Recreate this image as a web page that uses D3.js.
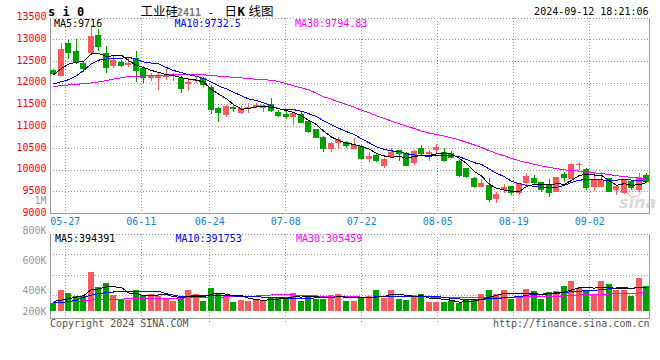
<!DOCTYPE html>
<html><head><meta charset="utf-8">
<script src="https://cdn.jsdelivr.net/npm/d3@7"></script>
<style>html,body{margin:0;padding:0;background:#fff}svg{display:block}</style>
</head><body>
<svg id="c" width="660" height="360"></svg>
<script>
// ---------------- data ----------------
const dates = ["05-23","05-24","05-27","05-28","05-29","05-30","05-31",
"06-03","06-04","06-05","06-06","06-07","06-11","06-12","06-13","06-14",
"06-17","06-18","06-19","06-20","06-21","06-24","06-25","06-26","06-27","06-28",
"07-01","07-02","07-03","07-04","07-05","07-08","07-09","07-10","07-11","07-12",
"07-15","07-16","07-17","07-18","07-19","07-22","07-23","07-24","07-25","07-26",
"07-29","07-30","07-31","08-01","08-02","08-05","08-06","08-07","08-08","08-09",
"08-12","08-13","08-14","08-15","08-16","08-19","08-20","08-21","08-22","08-23",
"08-26","08-27","08-28","08-29","08-30","09-02","09-03","09-04","09-05","09-06",
"09-09","09-10","09-11","09-12"];

const open = [12311,12173,12924,12740,12464,12702,13100,12702,12403,12495,
12418,12579,12349,12119,12119,12134,12165,12127,11981,12050,
12111,11920,11421,11268,11460,11322,11398,11460,11421,11521,
11345,11291,11230,11291,11138,10938,10770,10486,10632,10639,
10486,10563,10256,10348,10095,10310,10455,10387,10172,10517,
10363,10463,10425,10386,10218,10057,9827,9620,9658,9336,
9543,9635,9482,9696,9827,9719,9673,9489,9911,9796,
10118,10018,9620,9620,9811,9543,9482,9750,9543,9888];
const high = [12330,12924,12993,13016,12479,13330,13246,12847,12617,12525,
12579,12748,12387,12234,12234,12334,12242,12165,12111,12134,
12134,11958,11460,11498,11513,11475,11552,11536,11513,11667,
11383,11368,11345,11345,11153,10954,10785,10655,10770,10670,
10731,10578,10425,10363,10287,10517,10463,10425,10463,10578,
10463,10593,10501,10440,10233,10057,9850,9788,9811,9505,
9681,9635,9696,9942,9888,9735,9788,9850,9949,10156,
10195,10057,9926,9949,9811,9658,9788,9773,9926,9926];
const low = [12180,12165,12564,12449,12265,12656,12748,12226,12349,12364,
12364,12019,12004,12042,11850,12080,12058,11782,11843,11996,
11920,11283,11115,11230,11345,11283,11322,11421,11330,11345,
11214,11176,11038,11076,10861,10731,10425,10425,10478,10501,
10486,10256,10195,10195,10057,10310,10218,10095,10118,10325,
10218,10371,10195,10271,9850,9827,9581,9620,9275,9252,
9466,9428,9428,9620,9673,9505,9390,9489,9735,9796,
10003,9543,9528,9620,9489,9428,9443,9543,9505,9712];
const close = [12211,12786,12702,12464,12334,13093,12840,12349,12540,12403,
12472,12288,12119,12180,12196,12196,12190,11858,12035,12073,
11958,11383,11306,11483,11414,11421,11460,11498,11498,11368,
11253,11230,11306,11092,10869,10747,10486,10616,10708,10555,
10578,10256,10325,10210,10256,10425,10370,10095,10430,10371,
10425,10540,10218,10287,9873,9850,9604,9712,9313,9451,
9620,9482,9696,9865,9712,9543,9482,9834,9811,10141,
10133,9581,9773,9773,9489,9643,9773,9581,9834,9735];
const volume = [138,367,319,259,259,693,422,494,277,199,
199,367,277,301,265,235,174,217,367,308,
174,404,319,277,150,199,174,199,186,247,
235,247,319,174,277,217,217,277,301,174,
174,241,265,367,235,367,217,186,277,301,
150,150,150,174,138,186,217,301,367,301,
367,217,262,386,350,205,331,350,440,530,
410,367,277,530,476,367,370,265,588,440].map(v => v * 1000);

// moving-average values before enough history is available
const ma5Lead  = [12190,12340,12440,12480];
const ma10Lead = [11985,12035,12080,12170,12290,12450,12530,12560,12571];
const ma30Lead = [11925,11942,11960,11975,11990,12005,12030,12060,12095,12125,
12150,12160,12168,12175,12182,12188,12195,12200,12205,12200,
12192,12180,12162,12148,12138,12125,12105,12090,12078];
const vma5Lead  = [165000,190000,215000,245000];
const vma10Lead = [145000,150000,160000,190000,240000,280000,305000,325000,335000];
const vma30Lead = [145000,150000,158000,165000,175000,190000,198000,202000,205000,208000,
210000,213000,216000,218000,220000,222000,224000,226000,229000,232000,
235000,238000,242000,246000,250000,254000,258000,263000,268000];

const priceTicks = [13500,13000,12500,12000,11500,11000,10500,10000,9500,9000];
const dateTicks = ["05-27","06-11","06-24","07-08","07-22","08-05","08-19","09-02"];
const volTickLabels = ["800K","600K","400K","200K"];
const volTickValues = [800000,600000,400000,200000];

const symbolText = "s i 0";
const titleParts = ["工业硅","2411","-","日","K","线图"];
const timeText = "2024-09-12 18:21:06";
const priceMaLabels = ["MA5:9716","MA10:9732.5","MA30:9794.83"];
const volMaLabels = ["MA5:394391","MA10:391753","MA30:305459"];
const copyText = "Copyright 2024 SINA.COM";
const urlText = "http://finance.sina.com.cn";

// ---------------- helpers ----------------
function movingAvg(arr, n, lead) {
  return arr.map((_, i) => i < n - 1 ? lead[i] : d3.mean(arr.slice(i - n + 1, i + 1)));
}
const ma5 = movingAvg(close, 5, ma5Lead);
const ma10 = movingAvg(close, 10, ma10Lead);
const ma30 = movingAvg(close, 30, ma30Lead);
const vma5 = movingAvg(volume, 5, vma5Lead);
const vma10 = movingAvg(volume, 10, vma10Lead);
const vma30 = movingAvg(volume, 30, vma30Lead);

const RED = "#f65a5a", GREEN = "#00a000";
const MONO = "'DejaVu Sans Mono', 'Liberation Mono', monospace";
const CJK = "'Noto Sans CJK SC', sans-serif";

// ---------------- layout ----------------
const L = 50, R = 649.5;
const pTop = 18, pBot = 213.6;
const vTop = 234.3, vBase = 310.6, vBot = 318.3;

const svg = d3.select("#c");
const N = dates.length;
const x = d3.scaleBand().domain(d3.range(N)).range([49.5, 650]);
const cx = i => Math.round(x(i) + x.bandwidth() / 2);
const gx = d3.scaleLinear().domain([0, N - 1]).range([50.1, 650.5]);
const y = d3.scaleLinear().domain([9000, 13500]).range([pBot, pTop]);
const yv = d3.scaleLinear().domain([0, 1375000]).range([vBase, vTop]);
const vGrid = d3.scaleLinear().domain([0, 4]).range([vTop, 316.2]);
const volLabelY = d3.scaleLinear().domain([800000, 400000]).range([230, 290]);
const px = v => Math.floor(v) + 0.5;

const grid = svg.append("g").attr("shape-rendering", "crispEdges");
const dotted = sel => sel.attr("stroke", "#999").attr("stroke-width", 1).attr("stroke-dasharray", "1,2");
const solid = sel => sel.attr("stroke", "#999").attr("stroke-width", 1);

priceTicks.filter(t => t !== 9000).forEach(t => {
  grid.append("line").attr("x1", L).attr("x2", R).attr("y1", px(y(t))).attr("y2", px(y(t))).call(dotted);
});
d3.range(4).forEach(k => {
  grid.append("line").attr("x1", L).attr("x2", R).attr("y1", px(vGrid(k))).attr("y2", px(vGrid(k))).call(dotted);
});
const tickIdx = dateTicks.map(d => dates.indexOf(d));
tickIdx.forEach(i => {
  const gxx = px(gx(i));
  grid.append("line").attr("x1", gxx).attr("x2", gxx).attr("y1", pTop).attr("y2", pBot).call(dotted);
  grid.append("line").attr("x1", gxx).attr("x2", gxx).attr("y1", vTop).attr("y2", vBot + 4).call(dotted);
});
grid.append("line").attr("x1", px(L)).attr("x2", px(L)).attr("y1", pTop).attr("y2", pBot + 0.5).call(solid);
grid.append("line").attr("x1", px(R)).attr("x2", px(R)).attr("y1", pTop).attr("y2", pBot + 0.5).call(solid);
grid.append("line").attr("x1", L).attr("x2", R).attr("y1", px(pBot)).attr("y2", px(pBot)).call(solid);
grid.append("line").attr("x1", px(L)).attr("x2", px(L)).attr("y1", vTop).attr("y2", vBot + 0.5).call(solid);
grid.append("line").attr("x1", px(R)).attr("x2", px(R)).attr("y1", vTop).attr("y2", vBot + 0.5).call(solid);
grid.append("line").attr("x1", L).attr("x2", R).attr("y1", px(vBot)).attr("y2", px(vBot)).call(solid);

// ---------------- candles ----------------
const cg = svg.append("g").attr("shape-rendering", "crispEdges");
const idx = d3.range(N);
const col = i => close[i] >= open[i] ? RED : GREEN;
cg.selectAll("rect.wick").data(idx).join("rect").attr("class", "wick")
  .attr("x", i => cx(i)).attr("width", 1)
  .attr("y", i => Math.round(y(high[i])))
  .attr("height", i => Math.max(1, Math.round(y(low[i])) - Math.round(y(high[i]))))
  .attr("fill", col);
cg.selectAll("rect.body").data(idx).join("rect").attr("class", "body")
  .attr("x", i => cx(i) - 3).attr("width", 6)
  .attr("y", i => Math.round(y(Math.max(open[i], close[i]))))
  .attr("height", i => Math.max(1, Math.round(y(Math.min(open[i], close[i]))) - Math.round(y(Math.max(open[i], close[i])))))
  .attr("fill", col);

const lineP = d3.line().x((d, i) => cx(i) + 0.5).y(d => y(d));
[[ma30, "#ff00ff"], [ma10, "#0000ff"], [ma5, "#000000"]].forEach(([arr, c]) => {
  svg.append("path").attr("d", lineP(arr)).attr("fill", "none").attr("stroke", c)
    .attr("stroke-width", 1).attr("shape-rendering", "crispEdges");
});

// ---------------- volume ----------------
const vg = svg.append("g").attr("shape-rendering", "crispEdges");
vg.selectAll("rect").data(idx).join("rect")
  .attr("x", i => cx(i) - 3).attr("width", 6)
  .attr("y", i => Math.round(yv(volume[i])))
  .attr("height", i => Math.round(yv(0)) - Math.round(yv(volume[i])))
  .attr("fill", col);
const lineV = d3.line().x((d, i) => cx(i) + 0.5).y(d => yv(d));
[[vma30, "#ff00ff"], [vma10, "#0000ff"], [vma5, "#000000"]].forEach(([arr, c]) => {
  svg.append("path").attr("d", lineV(arr)).attr("fill", "none").attr("stroke", c)
    .attr("stroke-width", 1).attr("shape-rendering", "crispEdges");
});

// ---------------- texts ----------------
const txt = svg.append("g").attr("font-family", MONO).attr("font-size", "10px");
priceTicks.forEach(t => {
  txt.append("text").attr("x", 46.5).attr("y", y(t) - 1.5).attr("dy", "0.36em")
    .attr("text-anchor", "end").attr("fill", "#ff0000").text(t);
});
txt.append("text").attr("x", 46.5).attr("y", 200).attr("dy", "0.36em")
  .attr("text-anchor", "end").attr("fill", "#999").text("1M");
dateTicks.forEach((d, k) => {
  txt.append("text").attr("x", gx(tickIdx[k])).attr("y", 224.5)
    .attr("text-anchor", "middle").attr("fill", "#1a7fd0").text(d);
});
volTickLabels.forEach((lab, k) => {
  txt.append("text").attr("x", 46.5).attr("y", Math.min(volLabelY(volTickValues[k]), vBase + 0.5)).attr("dy", "0.36em")
    .attr("text-anchor", "end").attr("fill", "#999").text(lab);
});
const maColors = ["#000000", "#0000ff", "#ff00ff"];
const maX = [54, 174.5, 295];
priceMaLabels.forEach((t, k) => txt.append("text").attr("x", maX[k]).attr("y", 27.3).attr("fill", maColors[k]).text(t));
volMaLabels.forEach((t, k) => txt.append("text").attr("x", maX[k] + 1).attr("y", 241.8).attr("fill", maColors[k]).text(t));
txt.append("text").attr("x", 50).attr("y", 327).attr("fill", "#555").text(copyText);
txt.append("text").attr("x", 649.5).attr("y", 327).attr("text-anchor", "end").attr("fill", "#555").text(urlText);
txt.append("text").attr("x", 648.5).attr("y", 15.3).attr("text-anchor", "end").attr("fill", "#000").text(timeText);

// header
svg.append("text").attr("x", 48).attr("y", 16).attr("font-family", MONO).attr("font-size", "12px")
  .attr("font-weight", "bold").attr("fill", "#000").text(symbolText);
const title = svg.append("text").attr("y", 16).attr("fill", "#000");
const titleX = [140.5, 177, 208, 224.5, 237.5, 248.5];
titleParts.forEach((p, k) => {
  const ts = title.append("tspan").attr("x", titleX[k]).text(p);
  if (k === 1) ts.attr("font-family", MONO).attr("font-size", "10px").attr("fill", "#777").attr("font-weight", "bold");
  else if (k === 2) ts.attr("font-family", MONO).attr("font-size", "10px");
  else if (k === 4) ts.attr("font-family", MONO).attr("font-size", "12.5px").attr("font-weight", "bold");
  else ts.attr("font-family", CJK).attr("font-size", "12.5px");
});

// watermark
const wm = svg.append("g").attr("opacity", 0.55);
wm.append("ellipse").attr("cx", 634).attr("cy", 193).attr("rx", 6).attr("ry", 3.5)
  .attr("fill", "none").attr("stroke", "#d88").attr("stroke-width", 1.2);
wm.append("text").attr("x", 619).attr("y", 208).attr("font-family", "'DejaVu Sans', sans-serif")
  .attr("font-size", "16px").attr("font-weight", "bold").attr("font-style", "italic")
  .attr("fill", "#bbb").text("sina");
</script>
</body></html>
